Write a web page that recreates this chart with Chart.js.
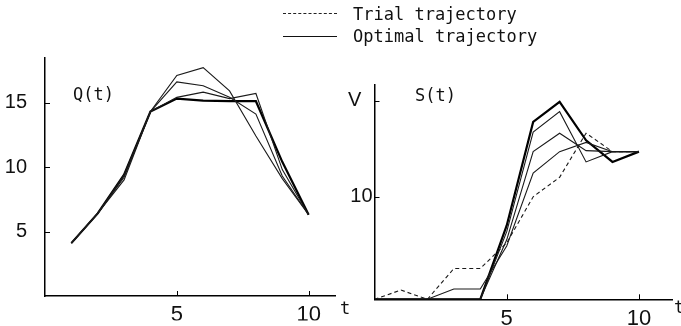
<!DOCTYPE html>
<html>
<head>
<meta charset="utf-8">
<script src="https://cdn.jsdelivr.net/npm/chart.js@4.4.0/dist/chart.umd.min.js"></script>
<style>
  body { margin: 0; background: #fff; }
  #wrap { position: relative; width: 681px; height: 326px; overflow: hidden; background: #fff; }
  #wrap canvas { position: absolute; left: 0; top: 0; }
  .txt {
    position: absolute;
    font-family: "DejaVu Sans Mono", "Liberation Mono", monospace;
    font-size: 17px;
    line-height: 1;
    color: #111;
    white-space: pre;
  }
  .key { position: absolute; left: 283px; width: 54px; height: 0; }
</style>
</head>
<body>
<div id="wrap">
  <canvas id="qChart" width="681" height="326"></canvas>
  <canvas id="sChart" width="681" height="326"></canvas>

  <!-- legend -->
  <div class="key" style="top:13px; border-top:1px dashed #222;"></div>
  <div class="txt" style="left:353px; top:6px;">Trial trajectory</div>
  <div class="key" style="top:36px; border-top:1px solid #111;"></div>
  <div class="txt" style="left:353px; top:28px;">Optimal trajectory</div>

  <!-- panel labels -->
  <div class="txt" style="left:73px; top:86px;">Q(t)</div>
  <div class="txt" style="left:415px; top:87px;">S(t)</div>
  <div class="txt" style="left:340px; top:300px;">t</div>
  <div class="txt" style="left:674px; top:299px;">t</div>
</div>

<script>
// time steps
const qTimes = [1, 2, 3, 4, 5, 6, 7, 8, 9, 10]
const sTimes = [0, 1, 2, 3, 4, 5, 6, 7, 8, 9, 10]

// Q(t) iterations (thin) and the optimal one (thick)
const qIterA = [4.1, 6.4, 9.0, 14.3, 17.1, 17.7, 15.9, 12.4, 9.1, 6.3]
const qIterB = [4.1, 6.4, 9.2, 14.3, 16.6, 16.3, 15.4, 14.1, 9.3, 6.3]
const qIterC = [4.1, 6.4, 9.4, 14.3, 15.4, 15.8, 15.3, 15.7, 9.8, 6.3]
const qOptimal = [4.1, 6.4, 9.4, 14.3, 15.3, 15.15, 15.1, 15.1, 10.4, 6.3]

// S(t) trial, iterations and optimal
const sTrial = [0, 0.9, 0, 3.0, 3.0, 5.5, 10.0, 11.9, 16.2, 14.4, 14.4]
const sIter1 = [0, 0, 0, 1.0, 1.0, 5.2, 12.3, 14.4, 15.3, 14.4, 14.4]
const sIter2 = [0, 0, 0, 0, 0, 5.8, 14.4, 16.2, 14.5, 14.4, 14.4]
const sIter3 = [0, 0, 0, 0, 0, 6.6, 16.3, 18.3, 13.4, 14.4, 14.4]
const sOptimal = [0, 0, 0, 0, 0, 7.2, 17.3, 19.25, 15.5, 13.4, 14.4]

// tick values / labels
const timeTicks = [5, 10]
const qYTicks = [5, 10, 15]
const sYTicks = [10, 19.35]
const sYLabels = ["10", "V  "]

const pts = (xs, ys) => xs.map((x, i) => ({ x: x, y: ys[i] }))

function line(xs, ys, thick, dashed) {
  return {
    data: pts(xs, ys),
    borderColor: thick ? "#000" : "#1a1a1a",
    borderWidth: thick ? 2.2 : 1.1,
    borderDash: dashed ? [4, 3] : [],
    pointRadius: 0,
    tension: 0,
    fill: false,
  }
}

// small inward tick marks, like the original plot
const inwardTicks = {
  id: "inwardTicks",
  afterDraw(chart) {
    const ctx = chart.ctx
    const { x, y } = chart.scales
    ctx.save()
    ctx.strokeStyle = "#000"
    ctx.lineWidth = 1
    ctx.beginPath()
    x.ticks.forEach((t) => {
      const px = Math.round(x.getPixelForValue(t.value)) + 0.5
      ctx.moveTo(px, x.top)
      ctx.lineTo(px, x.top - 5)
    })
    y.ticks.forEach((t) => {
      const py = Math.round(y.getPixelForValue(t.value)) + 0.5
      ctx.moveTo(y.right, py)
      ctx.lineTo(y.right + 5, py)
    })
    ctx.stroke()
    ctx.restore()
  },
}

function scale(min, max, values, labels, fontSize, padding, fitSize, horizontal) {
  return {
    type: "linear",
    min: min,
    max: max,
    afterBuildTicks: (s) => {
      s.ticks = values.map((v) => ({ value: v }))
    },
    afterFit: (s) => {
      if (horizontal) s.height = fitSize
      else s.width = fitSize
    },
    ticks: {
      color: "#111",
      padding: padding,
      font: { family: "'Liberation Sans', Arial, sans-serif", size: fontSize },
      callback: (v) => {
        const i = values.indexOf(v)
        return labels ? labels[i] : String(v)
      },
    },
    grid: { display: false, drawTicks: false },
    border: { display: true, color: "#000", width: 1.5 },
  }
}

const baseOptions = {
  responsive: false,
  animation: false,
  events: [],
  plugins: { legend: { display: false }, tooltip: { enabled: false } },
}

new Chart(document.getElementById("qChart"), {
  type: "line",
  data: {
    datasets: [
      line(qTimes, qIterA, false, false),
      line(qTimes, qIterB, false, false),
      line(qTimes, qIterC, false, false),
      line(qTimes, qOptimal, true, false),
    ],
  },
  options: {
    ...baseOptions,
    layout: { padding: { left: 0, top: 58, right: 346, bottom: 0 } },
    scales: {
      x: scale(0, 11, timeTicks, null, 22, 6, 24.5, true),
      y: scale(0, 18.45, qYTicks, null, 20, 18, 45, false),
    },
  },
  plugins: [inwardTicks],
})

new Chart(document.getElementById("sChart"), {
  type: "line",
  data: {
    datasets: [
      line(sTimes, sTrial, false, true),
      line(sTimes, sIter1, false, false),
      line(sTimes, sIter2, false, false),
      line(sTimes, sIter3, false, false),
      line(sTimes, sOptimal, true, false),
    ],
  },
  options: {
    ...baseOptions,
    layout: { padding: { left: 330, top: 85, right: 9, bottom: 0 } },
    scales: {
      x: scale(0, 11.25, timeTicks, null, 22, 6, 26.7, true),
      y: scale(0, 20.9, sYTicks, sYLabels, 20, 2, 44.5, false),
    },
  },
  plugins: [inwardTicks],
})
</script>
</body>
</html>
